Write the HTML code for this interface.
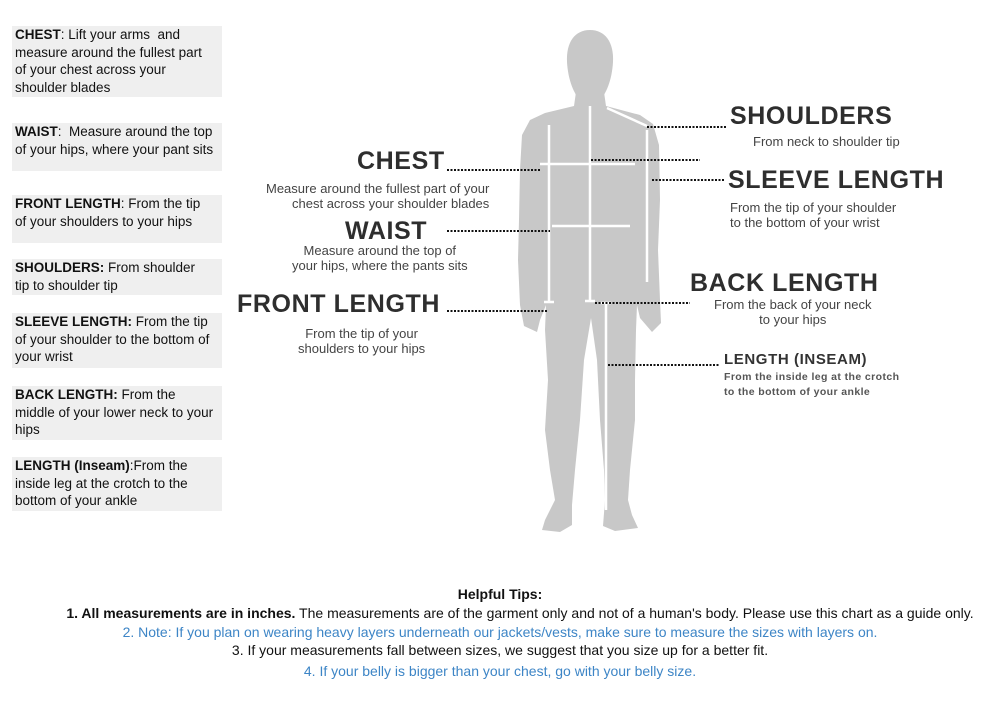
<!DOCTYPE html>
<html><head><meta charset="utf-8"><style>
body{margin:0;width:1000px;height:705px;background:#fff;position:relative;overflow:hidden;font-family:"Liberation Sans",Arial,sans-serif;}
.box{position:absolute;left:12px;width:207px;background:#efefef;padding:0 0 0 3px;font-size:13.5px;line-height:17.5px;color:#111;white-space:nowrap;}
.t{position:absolute;white-space:nowrap;color:#333;}
.h{font-weight:bold;font-size:25px;color:#2e2e2e;letter-spacing:0.6px;}
.d{font-size:13px;line-height:15px;color:#444;}
.bot{position:absolute;left:0;width:1000px;text-align:center;font-size:14px;color:#111;}
.blue{color:#3d85c6;}
svg{position:absolute;left:0;top:0;}
</style></head><body>
<svg width="1000" height="705">
<g fill="#c8c8c8">
<path d="M590,30 C605,30 614,42 613,62 C612,80 606,94 600,100 L580,100 C574,94 568,80 567,62 C566,42 575,30 590,30Z"/>
<path d="M576,92 L604,92 L606,106 L640,115 L653,124 L659,145 L660,200 L658,250 L660,300 L661,323 L652,332 L640,318 L637,305 L636,330 L635,380 L635,420 L630,470 L628,500 L632,515 L638,528 L615,531 L603,526 L605,500 L604,470 L600,420 L597,360 L591,318 L584,360 L580,420 L575,470 L572,505 L572,525 L560,532 L542,530 L545,520 L555,500 L550,470 L545,430 L548,380 L545,330 L546,305 L540,320 L537,332 L524,326 L520,305 L518,260 L519,220 L520,170 L522,135 L530,120 L545,113 L574,106Z"/>
</g>
<g stroke="#fff" stroke-width="2.5" fill="none">
<line x1="549" y1="125" x2="549" y2="302"/><line x1="544" y1="302" x2="554" y2="302"/>
<line x1="540" y1="164" x2="635" y2="164"/>
<line x1="552" y1="226" x2="630" y2="226"/>
<line x1="590" y1="106" x2="590" y2="300"/><line x1="585" y1="301" x2="595" y2="301"/>
<line x1="647" y1="130" x2="647" y2="282"/>
<line x1="607" y1="108" x2="647" y2="126"/>
<line x1="606" y1="303" x2="606" y2="510"/><line x1="601" y1="303" x2="611" y2="303"/>
</g>
<g stroke="#111" stroke-width="2" stroke-dasharray="2,1.5" fill="none">
<line x1="647" y1="127" x2="726" y2="127"/>
<line x1="591" y1="160" x2="700" y2="160"/>
<line x1="652" y1="180" x2="725" y2="180"/>
<line x1="447" y1="170" x2="540" y2="170"/>
<line x1="447" y1="231" x2="550" y2="231"/>
<line x1="447" y1="311" x2="548" y2="311"/>
<line x1="595" y1="303" x2="690" y2="303"/>
<line x1="608" y1="365" x2="720" y2="365"/>
</g>
</svg>

<div class="box" style="top:26px;height:71px"><b>CHEST</b>: Lift your arms &nbsp;and<br>measure around the fullest part<br>of your chest across your<br>shoulder blades</div>
<div class="box" style="top:123px;height:48px"><b>WAIST</b>: &nbsp;Measure around the top<br>of your hips, where your pant sits</div>
<div class="box" style="top:195px;height:48px"><b>FRONT LENGTH</b>: From the tip<br>of your shoulders to your hips</div>
<div class="box" style="top:259px;height:36px"><b>SHOULDERS:</b> From shoulder<br>tip to shoulder tip</div>
<div class="box" style="top:313px;height:55px"><b>SLEEVE LENGTH:</b> From the tip<br>of your shoulder to the bottom of<br>your wrist</div>
<div class="box" style="top:386px;height:54px"><b>BACK LENGTH:</b> From the<br>middle of your lower neck to your<br>hips</div>
<div class="box" style="top:457px;height:54px"><b>LENGTH (Inseam)</b>:From the<br>inside leg at the crotch to the<br>bottom of your ankle</div>

<div class="t h" style="left:357px;top:147px">CHEST</div>
<div class="t d" style="left:266px;top:181px;text-align:right">Measure around the fullest part of your<br>chest across your shoulder blades</div>
<div class="t h" style="left:345px;top:217px">WAIST</div>
<div class="t d" style="left:292px;top:243px;text-align:center">Measure around the top of<br>your hips, where the pants sits</div>
<div class="t h" style="left:237px;top:290px">FRONT LENGTH</div>
<div class="t d" style="left:298px;top:326px;text-align:center">From the tip of your<br>shoulders to your hips</div>
<div class="t h" style="left:730px;top:102px">SHOULDERS</div>
<div class="t d" style="left:753px;top:134px">From neck to shoulder tip</div>
<div class="t h" style="left:728px;top:166px">SLEEVE LENGTH</div>
<div class="t d" style="left:730px;top:200px">From the tip of your shoulder<br>to the bottom of your wrist</div>
<div class="t h" style="left:690px;top:269px">BACK LENGTH</div>
<div class="t d" style="left:714px;top:297px;text-align:center">From the back of your neck<br>to your hips</div>
<div class="t" style="left:724px;top:351px;font-weight:bold;font-size:15px;letter-spacing:0.6px">LENGTH (INSEAM)</div>
<div class="t" style="left:724px;top:370px;font-size:10.5px;line-height:14.5px;font-weight:bold;color:#555;letter-spacing:0.4px">From the inside leg at the crotch<br>to the bottom of your ankle</div>

<div class="bot" style="top:586px;font-weight:bold">Helpful Tips:</div>
<div class="bot" style="top:605px;left:20px"><b>1. All measurements are in inches.</b> The measurements are of the garment only and not of a human's body. Please use this chart as a guide only.</div>
<div class="bot blue" style="top:624px">2. Note: If you plan on wearing heavy layers underneath our jackets/vests, make sure to measure the sizes with layers on.</div>
<div class="bot" style="top:642px">3. If your measurements fall between sizes, we suggest that you size up for a better fit.</div>
<div class="bot blue" style="top:663px">4. If your belly is bigger than your chest, go with your belly size.</div>
</body></html>
